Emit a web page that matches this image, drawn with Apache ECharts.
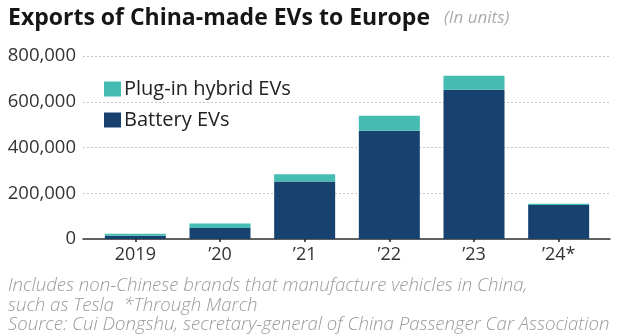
<!DOCTYPE html>
<html>
<head>
<meta charset="utf-8">
<script src="https://cdn.jsdelivr.net/npm/echarts@6/dist/echarts.min.js"></script>
<style>
  html, body { margin: 0; padding: 0; background: #fff; }
  #chart { width: 620px; height: 336px; }
</style>
</head>
<body>
<div id="chart"></div>
<script>
// Yearly exports of China-made EVs to Europe, in units
const years = ['2019', '\u201920', '\u201921', '\u201922', '\u201923', '\u201924*'];
const batteryEVs = [14000, 48000, 251000, 473000, 653000, 149000];
const plugInHybridEVs = [9000, 20000, 32000, 66000, 61000, 5000];
const yTicks = [0, 200000, 400000, 600000, 800000];

const FONT = '"Open Sans", Lato, sans-serif';
const NAVY = '#17416f';
const TEAL = '#45bcb2';

const chart = echarts.init(document.getElementById('chart'), null, { renderer: 'canvas' });

const gridTop = 56;
const gridBottom = 97;

chart.setOption({
  animation: false,
  backgroundColor: '#fff',
  textStyle: { fontFamily: FONT },
  title: {
    left: 8,
    top: 1,
    padding: 0,
    text: '{main|Exports of China-made EVs to Europe}{unit|(In units)}',
    textStyle: {
      rich: {
        main: { fontFamily: FONT, fontSize: 23, fontWeight: 'bold', color: '#161616', lineHeight: 34 },
        unit: { fontFamily: FONT, fontSize: 17, fontStyle: 'italic', fontWeight: 'normal', color: '#ababab', padding: [0, 0, 0, 14], lineHeight: 34 }
      }
    }
  },
  legend: {
    orient: 'vertical',
    left: 104,
    top: 79,
    padding: 0,
    itemWidth: 17,
    itemHeight: 15,
    itemGap: 11,
    icon: 'rect',
    data: ['Plug-in hybrid EVs', 'Battery EVs'],
    textStyle: { fontFamily: FONT, fontSize: 20, color: '#222', padding: [0, 0, 0, -2] }
  },
  grid: [
    // bars
    { left: 93, right: 19, top: gridTop, bottom: gridBottom },
    // gridlines, y labels and baseline
    { left: 83, right: 10, top: gridTop, bottom: gridBottom }
  ],
  xAxis: [
    {
      type: 'category',
      gridIndex: 0,
      data: years,
      axisLine: { show: false },
      axisTick: { show: true, alignWithLabel: true, length: 3, lineStyle: { color: '#222', width: 1.5 } },
      axisLabel: { fontFamily: FONT, fontSize: 18, color: '#333', margin: 7 }
    },
    {
      type: 'value',
      gridIndex: 1,
      min: 0,
      max: 1,
      axisLine: { show: true, onZero: false, lineStyle: { color: '#333', width: 1.5 } },
      axisTick: { show: false },
      axisLabel: { show: false },
      splitLine: { show: false }
    }
  ],
  yAxis: [
    {
      type: 'value',
      gridIndex: 0,
      min: yTicks[0],
      max: yTicks[yTicks.length - 1],
      interval: 200000,
      axisLine: { show: false },
      axisTick: { show: false },
      axisLabel: { show: false },
      splitLine: { show: false }
    },
    {
      type: 'value',
      gridIndex: 1,
      min: yTicks[0],
      max: yTicks[yTicks.length - 1],
      interval: 200000,
      axisLine: { show: false },
      axisTick: { show: false },
      axisLabel: {
        fontFamily: FONT,
        fontSize: 18.5,
        color: '#333',
        margin: 7,
        formatter: v => v.toLocaleString('en-US')
      },
      splitLine: {
        show: true,
        lineStyle: { color: '#c4c4c4', type: [2, 2], width: 1 }
      }
    }
  ],
  series: [
    {
      name: 'Battery EVs',
      type: 'bar',
      stack: 'total',
      xAxisIndex: 0,
      yAxisIndex: 0,
      barWidth: 61,
      itemStyle: { color: NAVY },
      data: batteryEVs
    },
    {
      name: 'Plug-in hybrid EVs',
      type: 'bar',
      stack: 'total',
      xAxisIndex: 0,
      yAxisIndex: 0,
      barWidth: 61,
      itemStyle: { color: TEAL },
      data: plugInHybridEVs
    }
  ],
  graphic: [
    {
      type: 'text',
      left: 8,
      top: 276,
      style: {
        text: 'Includes non-Chinese brands that manufacture vehicles in China,\nsuch as Tesla  *Through March\nSource: Cui Dongshu, secretary-general of China Passenger Car Association',
        font: 'italic 300 18.6px ' + FONT,
        fill: '#9a9a9a',
        lineHeight: 19.5
      }
    }
  ]
});
</script>
</body>
</html>
